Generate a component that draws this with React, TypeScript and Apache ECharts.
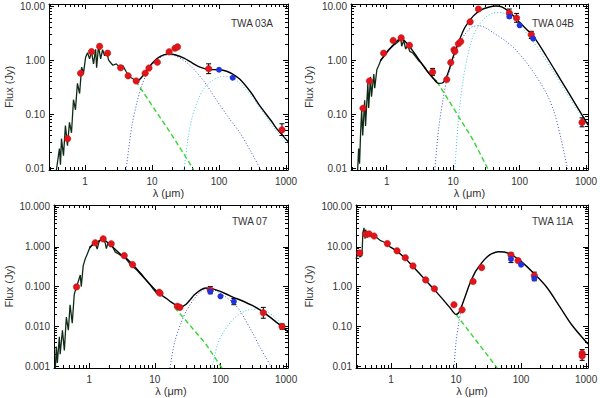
import React, { useEffect, useRef } from 'react';
import * as echarts from 'echarts';

type Pt = [number, number];
type Err = [number, number, number];

// ---------------- TWA 03A ----------------
const spec1: Pt[] = [[0.374,0.0092],[0.415,0.023],[0.43,0.0115],[0.445,0.035],[0.477,0.017],[0.51,0.061],[0.547,0.026],[0.586,0.07],[0.628,0.045],[0.673,0.184],[0.72,0.12],[0.77,0.37],[0.83,0.24],[0.89,0.74],[0.95,0.58],[1.02,1.12],[1.09,1.37],[1.17,1.05],[1.25,1.45],[1.34,0.85],[1.44,1.58],[1.49,0.72],[1.59,1.82],[1.71,1.05],[1.83,1.55],[1.96,1.2],[2.1,1.45],[2.25,1.0],[2.4,0.9],[2.6,0.8],[2.93,0.85],[3.28,0.74],[3.68,0.78],[4.14,0.6],[4.6,0.49],[5.2,0.45],[5.7,0.41]];
const total1: Pt[] = [[5.5,0.42],[6.2,0.42],[7,0.48],[8,0.6],[10,0.86],[12,1.08],[15,1.25],[18,1.3],[22,1.25],[30,1.08],[40,0.88],[52,0.74],[70,0.67],[100,0.66],[130,0.62],[160,0.55],[205,0.44],[300,0.25],[410,0.14],[600,0.075],[730,0.053],[1070,0.031]];
const photo1: Pt[] = [[5.7,0.41],[20,0.04],[42,0.0092]];
const warm1: Pt[] = [[4.1,0.0092],[5,0.06],[6,0.17],[7,0.33],[8,0.5],[10,0.8],[12,1.02],[15,1.2],[18,1.25],[22,1.2],[30,0.98],[40,0.72],[60,0.4],[92,0.18],[140,0.085],[205,0.045],[300,0.02],[420,0.0092]];
const cold1: Pt[] = [[30,0.0092],[35,0.04],[40,0.09],[50,0.2],[60,0.3],[80,0.42],[100,0.48],[120,0.5],[150,0.48],[200,0.38],[300,0.22],[500,0.09],[700,0.05],[1070,0.027]];
const red1: Pt[] = [[0.55,0.035],[0.86,0.57],[1.25,1.43],[1.65,1.79],[2.17,1.34],[3.4,0.72],[4.4,0.51],[5.8,0.41],[7.9,0.57],[9,0.71],[12,0.91],[18,1.42],[22,1.65],[24,1.75],[70,0.69],[870,0.051]];
const blue1: Pt[] = [[100,0.66],[160,0.47]];
const err1: Err[] = [[70,0.56,0.85],[870,0.04,0.066]];

// ---------------- TWA 04B ----------------
const spec2: Pt[] = [[0.365,0.0092],[0.378,0.023],[0.39,0.012],[0.405,0.046],[0.42,0.12],[0.435,0.04],[0.466,0.18],[0.48,0.06],[0.52,0.37],[0.535,0.13],[0.57,0.49],[0.59,0.21],[0.64,0.55],[0.66,0.3],[0.71,0.66],[0.76,0.8],[0.81,0.97],[0.87,1.1],[0.97,1.33],[1.07,1.55],[1.19,1.75],[1.32,1.95],[1.47,2.15],[1.63,2.45],[1.68,1.8],[1.8,2.3],[1.93,1.6],[2.07,1.85],[2.22,1.45],[2.47,1.35],[2.74,1.15],[3.04,0.97],[3.37,0.86],[3.74,0.73],[4.15,0.6],[4.61,0.52],[5.1,0.45],[5.7,0.4]];
const total2: Pt[] = [[0.8,0.97],[1.0,1.38],[1.2,1.8],[1.4,2.2],[1.65,2.5],[2.0,2.05],[2.5,1.45],[3.0,1.05],[3.5,0.8],[4,0.64],[5,0.46],[6,0.37],[7,0.38],[8,0.5],[9,0.75],[10,1.15],[12,2.1],[15,4.0],[20,6.5],[26,8.4],[35,9.6],[44,10],[55,9.5],[74,7.3],[100,5.0],[130,3.6],[167,2.6],[250,1.2],[420,0.42],[700,0.15],[1070,0.063]];
const photo2: Pt[] = [[5.7,0.4],[20,0.033],[34,0.0092]];
const warm2: Pt[] = [[5.3,0.0092],[6,0.05],[7,0.18],[8,0.42],[10,1.0],[12,1.8],[15,3.0],[20,4.2],[25,4.3],[30,4.0],[40,3.2],[60,2.3],[83,1.65],[120,0.98],[167,0.56],[250,0.25],[330,0.11],[420,0.035],[531,0.0092]];
const cold2: Pt[] = [[10.6,0.0092],[12,0.08],[14,0.4],[17,1.4],[20,2.8],[25,4.6],[30,6.0],[40,7.4],[50,7.6],[60,7.2],[80,5.8],[100,4.5],[150,2.4],[200,1.5],[300,0.7],[500,0.25],[1070,0.06]];
const red2: Pt[] = [[0.44,0.128],[0.55,0.41],[0.9,1.34],[1.25,2.3],[1.65,2.57],[2.2,1.87],[4.9,0.6],[8,0.435],[9.2,0.9],[10.3,1.55],[10.6,1.45],[12,2.0],[13,2.2],[18,5.1],[24,8.8],[70,7.4],[90,6.0],[150,2.95],[870,0.07]];
const blue2: Pt[] = [[70,6.4],[100,4.4],[160,2.5]];
const err2: Err[] = [[4.9,0.52,0.7],[70,6.0,8.8],[90,5.0,7.3],[150,2.5,3.4],[870,0.058,0.085]];

// ---------------- TWA 07 ----------------
const spec3: Pt[] = [[0.304,0.0009],[0.315,0.0031],[0.326,0.0012],[0.35,0.0055],[0.36,0.002],[0.39,0.008],[0.417,0.0025],[0.447,0.017],[0.48,0.008],[0.51,0.035],[0.55,0.012],[0.59,0.063],[0.63,0.095],[0.68,0.134],[0.73,0.195],[0.755,0.1],[0.81,0.34],[0.87,0.5],[0.93,0.65],[1.0,0.88],[1.11,1.13],[1.23,1.26],[1.32,0.88],[1.42,1.38],[1.52,1.55],[1.63,1.6],[1.75,1.25],[1.82,0.9],[1.95,1.3],[2.09,1.0],[2.24,1.05],[2.49,0.73],[2.76,0.67],[3.07,0.6],[3.41,0.57],[3.79,0.455],[4.21,0.36],[4.67,0.31],[5.3,0.26],[5.97,0.21],[6.7,0.17],[7.5,0.14],[8.5,0.11],[9.5,0.085],[10.7,0.068],[12,0.062]];
const total3: Pt[] = [[1.0,0.95],[1.3,1.3],[1.6,1.5],[2.0,1.2],[2.5,0.85],[3.0,0.65],[3.5,0.55],[4.5,0.37],[6,0.22],[8,0.125],[10,0.085],[12,0.065],[15,0.05],[18,0.04],[22,0.033],[25,0.031],[30,0.036],[35,0.048],[40,0.062],[50,0.083],[60,0.092],[70,0.09],[90,0.08],[120,0.066],[160,0.053],[200,0.046],[300,0.034],[400,0.026],[500,0.02],[700,0.013],[870,0.0098],[1070,0.0073]];
const photo3: Pt[] = [[20,0.03],[60,0.0036],[105,0.0009]];
const warm3: Pt[] = [[17,0.0009],[20,0.004],[25,0.012],[30,0.024],[40,0.05],[50,0.075],[60,0.087],[70,0.087],[90,0.075],[120,0.055],[160,0.038],[200,0.024],[300,0.0075],[400,0.003],[610,0.0009]];
const cold3: Pt[] = [[74,0.0009],[90,0.0035],[110,0.007],[150,0.014],[200,0.021],[250,0.025],[300,0.027],[400,0.027],[500,0.024],[700,0.016],[1070,0.0075]];
const red3: Pt[] = [[0.64,0.098],[1.23,1.26],[1.63,1.58],[2.16,1.19],[3.41,0.6],[4.57,0.356],[11.6,0.072],[12,0.068],[22,0.032],[24,0.03],[70,0.082],[450,0.022],[870,0.0099]];
const blue3: Pt[] = [[70,0.075],[100,0.057],[160,0.042]];
const err3: Err[] = [[70,0.066,0.1],[160,0.035,0.05],[450,0.016,0.03],[870,0.0085,0.0115]];

// ---------------- TWA 11A ----------------
const spec4: Pt[] = [[0.29,5.0],[0.31,6.5],[0.333,5.5],[0.358,6],[0.37,22.6],[0.385,30],[0.4,16],[0.41,27],[0.43,17],[0.44,22],[0.475,20],[0.51,19.5],[0.57,18.5],[0.68,14.5],[0.81,12.8],[0.97,9.9]];
const total4: Pt[] = [[0.97,9.9],[1.24,7.7],[1.66,5.1],[2.18,3.2],[3.4,1.45],[4.6,0.85],[6,0.52],[8,0.3],[10,0.2],[11,0.22],[12,0.3],[14,0.6],[16,1.1],[18,1.7],[20,2.4],[25,4.0],[30,5.5],[35,6.6],[45,7.5],[55,7.4],[70,6.4],[100,4.3],[155,2.2],[250,0.95],[400,0.3],[600,0.11],[1070,0.036]];
const photo4: Pt[] = [[10,0.2],[20,0.046],[43,0.009]];
const warm4: Pt[] = [[9.3,0.009],[10,0.04],[11,0.12],[12,0.26],[13,0.42]];
const cold4: Pt[] = [];
const red4: Pt[] = [[0.33,7.0],[0.41,20.6],[0.46,21],[0.55,18.6],[0.88,12],[1.24,7.9],[1.66,5.3],[2.18,3.3],[3.42,1.47],[4.65,0.88],[9.3,0.35],[12.4,0.26],[18.3,1.34],[24.8,3.0],[70,6.2],[90,4.5],[160,1.9],[870,0.021],[870,0.018]];
const blue4: Pt[] = [[70,4.9],[100,3.55],[160,1.6]];
const err4: Err[] = [[70,4.0,7.0],[160,1.4,2.3],[870,0.014,0.026]];

// ---------------- axes ----------------
const xMajor = [1, 10, 100, 1000];
const yMajor = [0.001, 0.01, 0.1, 1, 10, 100];
const minorMult = [2, 3, 4, 5, 6, 7, 8, 9];
const decadeStarts = [0.0001, 0.001, 0.01, 0.1, 1, 10, 100];
const minorValues = decadeStarts.flatMap((d) => minorMult.map((m) => +(m * d).toPrecision(6)));
const X_MIN = 0.29;
const X_MAX = 1070;

const names = ['TWA 03A', 'TWA 04B', 'TWA 07', 'TWA 11A'];

const panels = [
  { name: names[0], spec: spec1, total: total1, photo: photo1, warm: warm1, cold: cold1, red: red1, blue: blue1, err: err1,
    yMin: 0.0092, yMax: 10.9, digits: 2, grid: { left: 49, top: 4, width: 239, height: 166 }, yGap: 35, label: [231, 18] },
  { name: names[1], spec: spec2, total: total2, photo: photo2, warm: warm2, cold: cold2, red: red2, blue: blue2, err: err2,
    yMin: 0.0092, yMax: 10.9, digits: 2, grid: { left: 351, top: 4, width: 237, height: 166 }, yGap: 37, label: [532, 18] },
  { name: names[2], spec: spec3, total: total3, photo: photo3, warm: warm3, cold: cold3, red: red3, blue: blue3, err: err3,
    yMin: 0.0009, yMax: 11.2, digits: 3, grid: { left: 54, top: 205, width: 234, height: 163 }, yGap: 40, label: [232, 216] },
  { name: names[3], spec: spec4, total: total4, photo: photo4, warm: warm4, cold: cold4, red: red4, blue: blue4, err: err4,
    yMin: 0.009, yMax: 112, digits: 2, grid: { left: 356, top: 205, width: 232, height: 163 }, yGap: 42, label: [532, 216] },
];

const FONT = '"Liberation Sans", Arial, Helvetica, sans-serif';
const TXT = '#333';
const tickStyle = { color: '#000', width: 1 };

function buildOption() {
  const grid: any[] = [];
  const xAxis: any[] = [];
  const yAxis: any[] = [];
  const series: any[] = [];
  const graphic: any[] = [];

  panels.forEach((p, g) => {
    grid.push({ ...p.grid, containLabel: false, outerBoundsMode: 'none' });
    const xb = { type: 'log', logBase: 10, gridIndex: g, min: X_MIN, max: X_MAX, splitLine: { show: false }, silent: true };
    xAxis.push(
      { ...xb, position: 'bottom', axisLine: { show: true, lineStyle: tickStyle },
        axisTick: { show: true, inside: true, length: 5, customValues: xMajor, lineStyle: tickStyle },
        axisLabel: { show: true, customValues: xMajor, formatter: (v: number) => String(Math.round(v)), margin: 6, color: TXT, fontSize: 10, fontFamily: FONT },
        name: 'λ (μm)', nameLocation: 'middle', nameGap: 17, nameTextStyle: { color: TXT, fontSize: 11, fontFamily: FONT } },
      { ...xb, position: 'bottom', axisLine: { show: false },
        axisTick: { show: true, inside: true, length: 3, customValues: minorValues, lineStyle: tickStyle }, axisLabel: { show: false } },
      { ...xb, position: 'top', axisLine: { show: true, lineStyle: tickStyle },
        axisTick: { show: true, inside: true, length: 5, customValues: xMajor, lineStyle: tickStyle }, axisLabel: { show: false } },
      { ...xb, position: 'top', axisLine: { show: false },
        axisTick: { show: true, inside: true, length: 3, customValues: minorValues, lineStyle: tickStyle }, axisLabel: { show: false } },
    );
    const yb = { type: 'log', logBase: 10, gridIndex: g, min: p.yMin, max: p.yMax, splitLine: { show: false }, silent: true };
    yAxis.push(
      { ...yb, position: 'left', axisLine: { show: true, lineStyle: tickStyle },
        axisTick: { show: true, inside: true, length: 5, customValues: yMajor, lineStyle: tickStyle },
        axisLabel: { show: true, customValues: yMajor, formatter: (v: number) => v.toFixed(p.digits), margin: 4, color: TXT, fontSize: 10, fontFamily: FONT },
        name: 'Flux (Jy)', nameLocation: 'middle', nameGap: p.yGap, nameRotate: 90, nameTextStyle: { color: TXT, fontSize: 11, fontFamily: FONT } },
      { ...yb, position: 'left', axisLine: { show: false },
        axisTick: { show: true, inside: true, length: 3, customValues: minorValues, lineStyle: tickStyle }, axisLabel: { show: false } },
      { ...yb, position: 'right', axisLine: { show: true, lineStyle: tickStyle },
        axisTick: { show: true, inside: true, length: 5, customValues: yMajor, lineStyle: tickStyle }, axisLabel: { show: false } },
      { ...yb, position: 'right', axisLine: { show: false },
        axisTick: { show: true, inside: true, length: 3, customValues: minorValues, lineStyle: tickStyle }, axisLabel: { show: false } },
    );
    const ax = { xAxisIndex: g * 4, yAxisIndex: g * 4 };
    const line = (data: Pt[], color: string, width: number, type: any, z: number, smooth: number | boolean = false) => ({
      type: 'line', ...ax, data, showSymbol: false, symbol: 'none', smooth, z, silent: true,
      lineStyle: { color, width, type },
    });
    series.push(line(p.spec, '#0f2a16', 1.3, 'solid', 2));
    series.push(line(p.photo, '#33d633', 1.4, [5, 3], 3));
    series.push(line(p.warm, '#3f55c8', 1, [1, 2], 3, 0.3));
    if (p.cold.length) series.push(line(p.cold, '#3fc6e6', 1, [1, 2], 3, 0.3));
    series.push(line(p.total, '#000000', 1.4, 'solid', 4, 0.3));
    series.push({
      type: 'custom', ...ax, data: p.err, encode: { x: 0, y: [1, 2] }, z: 5, silent: true,
      renderItem: (_params: any, api: any) => {
        const x = api.value(0);
        const a = api.coord([x, api.value(1)]);
        const b = api.coord([x, api.value(2)]);
        const c = 2.5;
        const st = { stroke: '#000', lineWidth: 1 };
        return {
          type: 'group',
          children: [
            { type: 'line', shape: { x1: a[0], y1: a[1], x2: b[0], y2: b[1] }, style: st },
            { type: 'line', shape: { x1: a[0] - c, y1: a[1], x2: a[0] + c, y2: a[1] }, style: st },
            { type: 'line', shape: { x1: b[0] - c, y1: b[1], x2: b[0] + c, y2: b[1] }, style: st },
          ],
        };
      },
    });
    series.push({ type: 'scatter', ...ax, data: p.red, symbol: 'circle', symbolSize: 6.5, z: 6, silent: true,
      itemStyle: { color: '#e3151b', borderColor: '#b01010', borderWidth: 0.5, opacity: 1 } });
    series.push({ type: 'scatter', ...ax, data: p.blue, symbol: 'circle', symbolSize: 6, z: 7, silent: true,
      itemStyle: { color: '#2233dd', opacity: 1 } });
    graphic.push({ type: 'text', left: p.label[0], top: p.label[1], silent: true,
      style: { text: p.name, fill: TXT, fontSize: 10, fontFamily: FONT } });
  });

  return { animation: false, backgroundColor: '#ffffff', grid, xAxis, yAxis, series, graphic };
}

export default function App() {
  const ref = useRef<HTMLDivElement>(null);
  useEffect(() => {
    if (!ref.current) return;
    const chart = echarts.init(ref.current, undefined, { renderer: 'svg' });
    chart.setOption(buildOption() as any);
    return () => chart.dispose();
  }, []);
  return <div ref={ref} style={{ position: 'absolute', left: 0, top: 0, width: 600, height: 398 }} />;
}
